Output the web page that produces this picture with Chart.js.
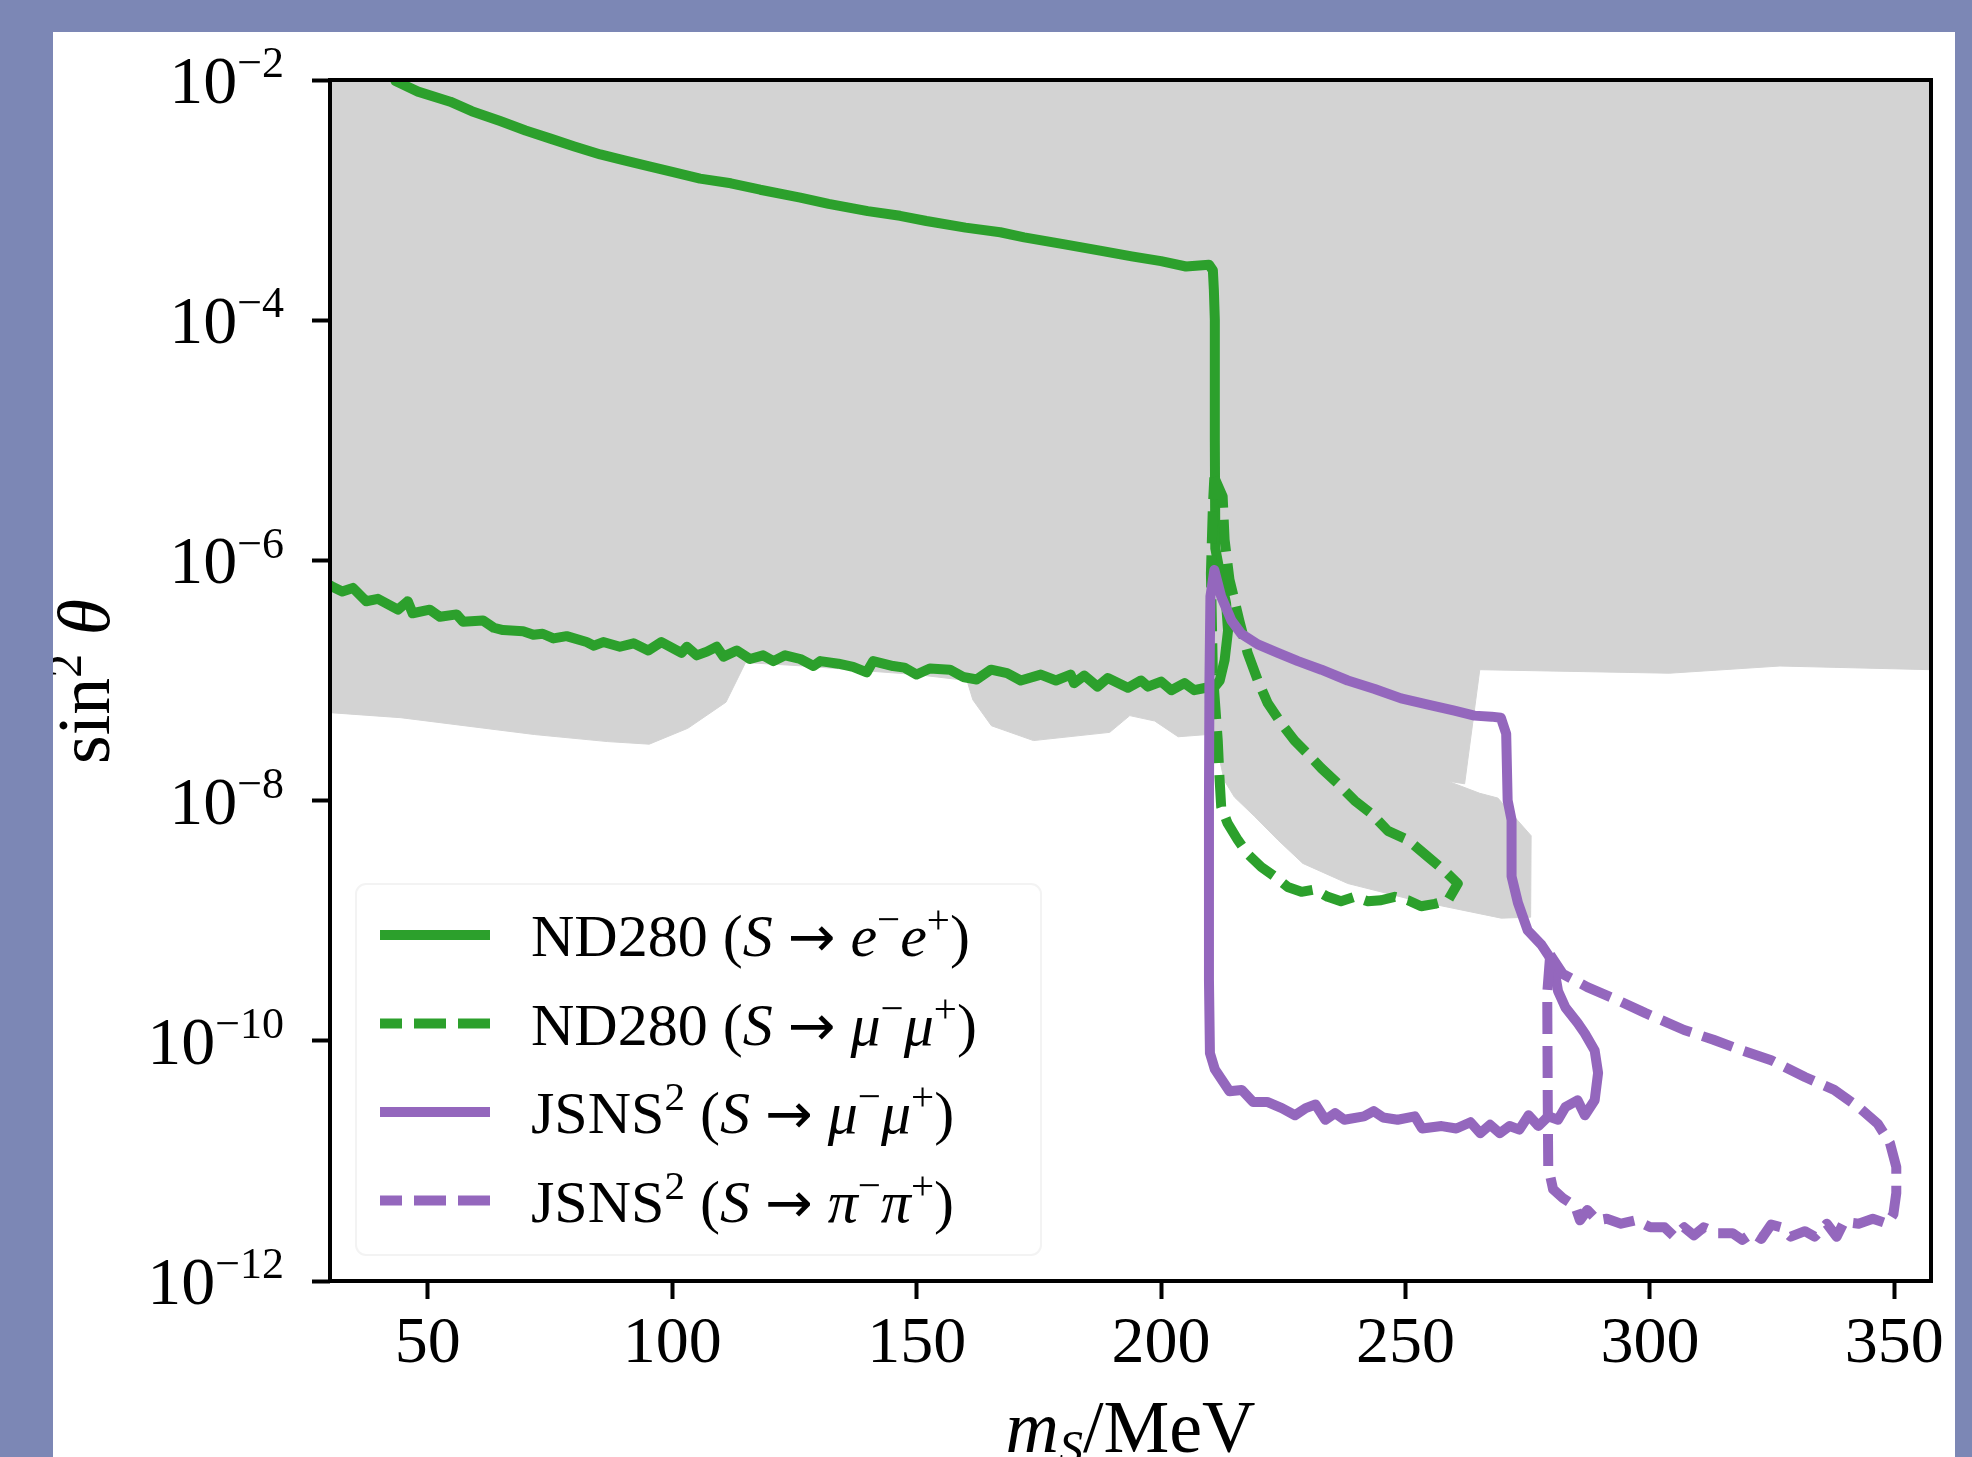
<!DOCTYPE html>
<html>
<head>
<meta charset="utf-8">
<title>Scalar limits</title>
<script src="https://cdn.jsdelivr.net/npm/chart.js@4/dist/chart.umd.min.js"></script>
<style>
  html, body { margin: 0; padding: 0; background: #7c87b5; }
  #panel { position: absolute; left: 53px; top: 32px; width: 1902px; height: 1425px; background: #fff; overflow: hidden; }
  #chart { display: block; }
</style>
</head>
<body>
<div id="panel"><canvas id="chart" width="1902" height="1480"></canvas></div>

<script>
// axis ranges and ticks
const xMin = 30, xMax = 357.5;
const yMin = 1e-12, yMax = 1e-2;
const xTicks = [50, 100, 150, 200, 250, 300, 350];
const yTicks = [1e-12, 1e-10, 1e-8, 1e-6, 1e-4, 1e-2];

const xTitle = '*m_S*/MeV';
const yTitle = 'sin^2 *θ*';

// series labels (* = italic, ^ = superscript, _ = subscript)
const seriesLabels = [
	'ND280 (*S* → *e*^−*e*^+)',
	'ND280 (*S* → *μ*^−*μ*^+)',
	'JSNS^2 (*S* → *μ*^−*μ*^+)',
	'JSNS^2 (*S* → *π*^−*π*^+)'
];

// lower edge of the grey excluded region
const greyMass = [30, 44.5, 71.8, 86.8, 95.3, 103.2, 111.0, 115.0, 127, 140, 150, 160.3, 161.5, 165.3, 173.9, 189.5, 193.6,
	198.7, 203.5, 209.5, 211.0, 211.6, 212.9, 215.0, 219.1, 223.9, 229.0, 238.2, 251.8, 269.6, 275.6, 275.7, 268.9,
	265.2, 258.7, 262.1, 265.2, 304.0, 326.6, 357.5];
const greySin2 = [5.4e-8, 4.9e-8, 3.55e-8, 3.1e-8, 2.95e-8, 4.0e-8, 6.6e-8, 1.41e-7, 1.32e-7, 1.2e-7, 1.12e-7, 1.0e-7, 6.9e-8, 4.2e-8, 3.16e-8, 3.7e-8, 5.1e-8,
	4.6e-8, 3.4e-8, 3.55e-8, 3.55e-8, 2.6e-8, 1.48e-8, 1.07e-8, 7.4e-9, 4.7e-9, 3.0e-9, 2.04e-9, 1.48e-9, 1.05e-9, 1.07e-9, 5.1e-9, 1.05e-8,
	1.15e-8, 1.45e-8, 1.38e-8, 1.23e-7, 1.15e-7, 1.32e-7, 1.23e-7];

// ND280, S -> e-e+
const ndEeMass = [43.4, 48, 54.6, 59, 64.8, 70, 75.1, 80, 85.3, 90, 95.5, 100, 105.7, 112, 118, 126.2, 132, 140, 146.6, 152, 160,
	167.1, 172, 180, 187.5, 194, 200, 205.1, 209.8, 210.6, 210.8, 211.0, 211.0, 211.1, 212.3, 213.3, 213.7, 213.0, 212.0, 210.8,
	209.2, 206.8, 204.8, 202.1, 200.0, 197.3, 195.9, 193.2, 189.1, 187.0, 184.3, 182.2, 181.5, 178.5, 175.4, 171.3, 168.5, 165.2, 162.3, 159.5, 156.8,
	152.7, 150.0, 147.5, 145.2, 141.1, 139.8, 137, 134.0, 130.3, 128.9, 126.2, 123.1, 120.7, 118.6, 115.9, 113.2, 110.5, 109.1, 107.1, 105, 103.0,
	101.9, 97.8, 95.1, 92.1, 89.3, 85.9, 84, 82.5, 78.4, 75.7, 73.5, 71.6, 69.5, 65.4, 63.5, 61.3, 57.2, 55.9, 52.5, 50.4, 46.9, 45.9, 43.9, 39.8,
	37.4, 34.7, 32.5, 30.6, 30.0];
const ndEeSin2 = [9.8e-3, 8.0e-3, 6.6e-3, 5.5e-3, 4.55e-3, 3.8e-3, 3.25e-3, 2.8e-3, 2.4e-3, 2.15e-3, 1.9e-3, 1.72e-3, 1.51e-3, 1.38e-3, 1.22e-3, 1.05e-3, 9.3e-4, 8.1e-4, 7.4e-4, 6.7e-4, 5.9e-4,
	5.4e-4, 4.9e-4, 4.3e-4, 3.8e-4, 3.4e-4, 3.1e-4, 2.8e-4, 2.9e-4, 2.6e-4, 1.8e-4, 1e-4, 1e-5, 1.26e-6, 6.9e-7, 4.4e-7, 2.6e-7, 1.48e-7, 1.0e-7, 8.7e-8,
	8.7e-8, 8.3e-8, 9.5e-8, 8.3e-8, 9.8e-8, 8.9e-8, 1.0e-7, 8.7e-8, 1.05e-7, 8.9e-8, 1.1e-7, 9.5e-8, 1.12e-7, 1.0e-7, 1.12e-7, 1.0e-7, 1.15e-7, 1.23e-7, 1.02e-7, 1.07e-7, 1.23e-7,
	1.26e-7, 1.12e-7, 1.28e-7, 1.32e-7, 1.45e-7, 1.17e-7, 1.3e-7, 1.38e-7, 1.45e-7, 1.32e-7, 1.51e-7, 1.62e-7, 1.45e-7, 1.62e-7, 1.51e-7, 1.78e-7, 1.58e-7, 1.91e-7, 1.74e-7, 1.62e-7, 1.91e-7,
	1.70e-7, 2.09e-7, 1.78e-7, 2.04e-7, 1.91e-7, 2.09e-7, 1.95e-7, 2.09e-7, 2.34e-7, 2.24e-7, 2.45e-7, 2.4e-7, 2.57e-7, 2.63e-7, 2.75e-7, 3.16e-7, 3.09e-7, 3.55e-7, 3.39e-7, 3.89e-7, 3.63e-7, 4.57e-7, 3.89e-7, 4.79e-7,
	4.57e-7, 5.9e-7, 5.5e-7, 6.0e-7, 6.2e-7];

// ND280, S -> mu-mu+
const ndMuMass = [210.9, 212.6, 213.0, 214.0, 215.0, 216.0, 217.7, 219.8, 221.8, 224.6, 227.3, 230.0, 232.8, 236.2, 239.6, 243.0, 246.4,
	250.5, 254.6, 258.0, 260.7, 258.7, 256.0, 253.2, 250.5, 247.8, 245.0, 242.3, 239.6, 236.8, 234.1, 231.4, 228.7, 225.9, 223.2,
	220.5, 217.7, 215.7, 213.6, 212.3, 211.9, 211.6, 210.6, 210.2, 210.6, 210.9];
const ndMuSin2 = [4.9e-6, 3.4e-6, 1.48e-6, 6.9e-7, 4.7e-7, 3.16e-7, 1.7e-7, 1.0e-7, 6.5e-8, 4.4e-8, 3.16e-8, 2.45e-8, 1.86e-8, 1.38e-8, 1.0e-8, 7.8e-9, 5.6e-9,
	4.7e-9, 3.4e-9, 2.6e-9, 2.04e-9, 1.48e-9, 1.38e-9, 1.32e-9, 1.48e-9, 1.58e-9, 1.48e-9, 1.45e-9, 1.58e-9, 1.45e-9, 1.58e-9, 1.82e-9, 1.74e-9, 1.91e-9, 2.34e-9,
	2.8e-9, 3.6e-9, 4.7e-9, 6.5e-9, 8.9e-9, 1.7e-8, 3.16e-8, 1.15e-7, 7.8e-7, 2.8e-6, 4.9e-6];

// JSNS2, S -> mu-mu+
const jsMuMass = [210.9, 212.3, 214.4, 216.4, 219.8, 223.9, 228.0, 232.8, 238.2, 243.7, 249.1, 254.6, 260.0, 264.1, 267.6, 269.5,
	270.6, 270.9, 271.7, 271.7, 273.0, 275.0, 277.8, 280.2, 281.2, 282.7, 285.2, 286.7, 288.7, 289.4, 288.7, 286.7, 285.2, 282.7,
	281.2, 279.2, 277.2, 275.2, 273.3, 271.3, 269.3, 267.3, 265.3, 263.3, 260.4, 257.4, 253.4, 251.9, 248.4, 245.4, 243.5, 241.5,
	237.5, 235.6, 233.6, 231.6, 229.6, 227.4, 224.7, 221.7, 218.8, 216.5, 214.0, 212.5, 211.0, 210.0, 209.8, 209.8, 209.9, 210.1, 210.9];
const jsMuSin2 = [8.3e-7, 5.0e-7, 3.16e-7, 2.45e-7, 2.0e-7, 1.7e-7, 1.45e-7, 1.23e-7, 1.0e-7, 8.5e-8, 7.1e-8, 6.3e-8, 5.6e-8, 5.1e-8, 5.0e-8, 4.9e-8,
	3.6e-8, 1.0e-8, 6.9e-9, 2.34e-9, 1.41e-9, 8.3e-10, 6.3e-10, 4.5e-10, 2.6e-10, 1.9e-10, 1.41e-10, 1.15e-10, 8.3e-11, 5.4e-11, 3.2e-11, 2.4e-11, 3.2e-11, 2.8e-11,
	2.2e-11, 2.35e-11, 1.95e-11, 2.4e-11, 1.82e-11, 1.95e-11, 1.7e-11, 2.0e-11, 1.7e-11, 2.1e-11, 1.86e-11, 1.95e-11, 1.86e-11, 2.35e-11, 2.2e-11, 2.3e-11, 2.6e-11, 2.35e-11,
	2.2e-11, 2.5e-11, 2.2e-11, 2.95e-11, 2.75e-11, 2.4e-11, 2.75e-11, 3.1e-11, 3.1e-11, 3.9e-11, 3.8e-11, 4.7e-11, 5.8e-11, 7.9e-11, 3.2e-10, 1e-8, 1e-7, 5e-7, 8.3e-7];

// JSNS2, S -> pi-pi+
const jsPiMass = [279.6, 282.2, 287.2, 293.2, 299.1, 307.0, 313.0, 318.9, 324.8, 331.7, 337.7, 342.7, 346.6, 349.1, 350.4, 350.4,
	349.8, 348.6, 345.6, 342.7, 339.7, 338.2, 336.2, 333.7, 331.7, 328.8, 326.8, 324.8, 322.8, 320.9, 318.9, 316.9, 313.9, 311.0,
	309.0, 307.0, 305.0, 303.0, 300.1, 297.1, 294.1, 291.2, 289.2, 287.2, 285.7, 284.7, 282.2, 280.2, 279.2, 279.1, 279.0, 279.6];
const jsPiSin2 = [5.2e-10, 3.6e-10, 2.8e-10, 2.2e-10, 1.7e-10, 1.23e-10, 1.02e-10, 8.3e-11, 6.9e-11, 5.0e-11, 3.9e-11, 2.8e-11, 2.04e-11, 1.41e-11, 8.9e-12, 5.4e-12,
	3.6e-12, 3.0e-12, 3.3e-12, 3.0e-12, 3.1e-12, 2.34e-12, 3.0e-12, 2.34e-12, 2.6e-12, 2.34e-12, 2.8e-12, 2.95e-12, 2.24e-12, 2.5e-12, 2.2e-12, 2.5e-12, 2.5e-12, 2.8e-12,
	2.4e-12, 2.8e-12, 2.34e-12, 2.8e-12, 2.8e-12, 3.2e-12, 3.0e-12, 3.3e-12, 3.2e-12, 3.9e-12, 3.2e-12, 4.2e-12, 4.9e-12, 5.8e-12, 8.9e-12, 3.2e-11, 2.5e-10, 5.2e-10];

const green = '#2ca02c';
const purple = '#9467bd';
const serif = '"Liberation Serif", "DejaVu Serif", serif';
const lineW = 10;

function pts(xs, ys) {
	return xs.map((x, i) => ({ x: x, y: ys[i] }));
}

// tiny markup: *italic*, ^x / ^{xy} superscript, _x subscript
function parseRich(src) {
	const out = [];
	let italic = false;
	for (let i = 0; i < src.length; i++) {
		let c = src[i];
		if (c === '*') { italic = !italic; continue; }
		let mode = 'n';
		if (c === '→') mode = 'arrow';
		if (c === '^' || c === '_') {
			mode = c === '^' ? 'sup' : 'sub';
			i++;
			if (src[i] === '{') {
				const end = src.indexOf('}', i);
				c = src.slice(i + 1, end);
				i = end;
			} else {
				c = src[i];
			}
		}
		const last = out[out.length - 1];
		if (last && last.mode === mode && last.italic === italic && mode !== 'arrow') last.text += c;
		else out.push({ text: c, mode: mode, italic: italic });
	}
	return out;
}

function plain(src) {
	return parseRich(src).map(p => p.text).join('');
}

function drawRich(ctx, src, x, y, size, align, supScale) {
	const k = supScale || 0.65;
	const parts = parseRich(src);
	const fontOf = p => {
		if (p.mode === 'arrow') return Math.round(size * 0.95) + 'px "DejaVu Sans"';
		const s = p.mode === 'n' ? size : size * k;
		return (p.italic ? 'italic ' : '') + Math.round(s) + 'px ' + serif;
	};
	let width = 0;
	parts.forEach(p => {
		ctx.font = fontOf(p);
		p.w = ctx.measureText(p.text).width;
		width += p.w;
	});
	let cx = align === 'right' ? x - width : (align === 'center' ? x - width / 2 : x);
	ctx.textAlign = 'left';
	ctx.textBaseline = 'alphabetic';
	parts.forEach(p => {
		ctx.font = fontOf(p);
		let dy = 0;
		if (p.mode === 'sup') dy = -0.38 * size;
		if (p.mode === 'sub') dy = 0.16 * size;
		ctx.fillText(p.text, cx, y + dy);
		cx += p.w;
	});
}

const decor = {
	id: 'decor',
	afterDatasetsDraw(chart) {
		const ctx = chart.ctx;
		const a = chart.chartArea;
		ctx.save();

		// frame
		ctx.strokeStyle = '#000';
		ctx.lineWidth = 4;
		ctx.strokeRect(a.left, a.top, a.right - a.left, a.bottom - a.top);

		// legend
		ctx.beginPath();
		ctx.roundRect(303, 852, 685, 371, 10);
		ctx.fillStyle = '#fff';
		ctx.fill();
		ctx.strokeStyle = '#f3f3f3';
		ctx.lineWidth = 2;
		ctx.stroke();

		const lines = chart.data.datasets.filter(d => d.legendText);
		lines.forEach((d, i) => {
			const ly = 903 + i * 88.5;
			ctx.beginPath();
			ctx.strokeStyle = d.borderColor;
			ctx.lineWidth = d.borderWidth;
			ctx.lineCap = 'butt';
			ctx.setLineDash(d.borderDash || []);
			ctx.lineDashOffset = d.borderDash ? 10 : 0;
			ctx.moveTo(327, ly);
			ctx.lineTo(437, ly);
			ctx.stroke();
			ctx.setLineDash([]);
			ctx.fillStyle = '#000';
			drawRich(ctx, d.legendText, 478, ly + 21, 60, 'left', 0.68);
		});
		ctx.restore();
	},
	afterDraw(chart) {
		const ctx = chart.ctx;
		const a = chart.chartArea;
		const ys = chart.scales.y;
		ctx.save();
		ctx.fillStyle = '#000';

		// y tick labels as powers of ten
		yTicks.forEach(v => {
			const n = Math.round(Math.log10(v));
			const py = ys.getPixelForValue(v);
			drawRich(ctx, '10^{' + (n < 0 ? '−' + (-n) : n) + '}', 231, py + 23, 68, 'right', 0.64);
		});

		// axis titles
		drawRich(ctx, xTitle, (a.left + a.right) / 2, 1420, 74, 'center');
		ctx.translate(56, (a.top + a.bottom) / 2 + 1);
		ctx.rotate(-Math.PI / 2);
		drawRich(ctx, yTitle, 0, 0, 74, 'center');
		ctx.restore();
	}
};

const greyShape = pts(greyMass, greySin2);
greyShape.push({ x: xMax, y: yMax }, { x: xMin, y: yMax });

function lineSet(i, xs, ys, color, dashed, order) {
	return {
		label: plain(seriesLabels[i]),
		legendText: seriesLabels[i],
		data: pts(xs, ys),
		showLine: true,
		borderColor: color,
		borderWidth: lineW,
		borderDash: dashed ? [32, 12] : undefined,
		borderCapStyle: dashed ? 'butt' : 'round',
		borderJoinStyle: 'round',
		pointRadius: 0,
		pointHoverRadius: 0,
		fill: false,
		order: order
	};
}

const tickGrid = { drawOnChartArea: false, tickLength: 18, tickWidth: 4, tickColor: '#000' };

new Chart(document.getElementById('chart'), {
	type: 'scatter',
	data: {
		datasets: [
			{
				label: 'excluded',
				data: greyShape,
				showLine: true,
				fill: 'shape',
				backgroundColor: '#d3d3d3',
				borderColor: '#d3d3d3',
				borderWidth: 1,
				pointRadius: 0,
				pointHoverRadius: 0,
				order: 10
			},
			lineSet(0, ndEeMass, ndEeSin2, green, false, 4),
			lineSet(1, ndMuMass, ndMuSin2, green, true, 3),
			lineSet(2, jsMuMass, jsMuSin2, purple, false, 2),
			lineSet(3, jsPiMass, jsPiSin2, purple, true, 1)
		]
	},
	options: {
		responsive: false,
		animation: false,
		devicePixelRatio: 1,
		layout: { padding: { top: 48, right: 24, left: 0, bottom: 0 } },
		plugins: {
			legend: { display: false },
			tooltip: { enabled: false }
		},
		scales: {
			x: {
				type: 'linear',
				min: xMin,
				max: xMax,
				afterFit: s => { s.height = 231; },
				afterBuildTicks: s => { s.ticks = xTicks.map(v => ({ value: v })); },
				grid: tickGrid,
				border: { display: false },
				ticks: {
					font: { family: serif, size: 66, lineHeight: 1.2 },
					color: '#000',
					padding: 6,
					maxRotation: 0,
					autoSkip: false,
					callback: v => String(v)
				}
			},
			y: {
				type: 'logarithmic',
				min: yMin,
				max: yMax,
				afterFit: s => { s.width = 277; },
				afterBuildTicks: s => { s.ticks = yTicks.map(v => ({ value: v })); },
				grid: tickGrid,
				border: { display: false },
				ticks: { callback: () => '' }
			}
		}
	},
	plugins: [decor]
});
</script>
</body>
</html>
